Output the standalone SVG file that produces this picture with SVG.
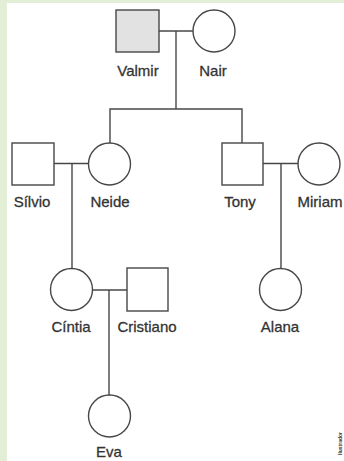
<svg xmlns="http://www.w3.org/2000/svg" width="344" height="461" viewBox="0 0 344 461">
  <style>
    .shape { fill: #ffffff; stroke: #474747; stroke-width: 1.4; }
    .affected { fill: #e2e2e2; }
    .link { fill: none; stroke: #474747; stroke-width: 1.4; }
    .name { font-family: "Liberation Sans", Arial, sans-serif; font-size: 15px; fill: #333333; stroke: #333333; stroke-width: 0.3; text-anchor: middle; }
    .credit { font-family: "Liberation Sans", Arial, sans-serif; font-size: 5px; font-weight: bold; fill: #333333; }
  </style>

  <!-- page background with a light green margin on the left and top -->
  <rect x="0" y="0" width="344" height="461" fill="#e3eed6"/>
  <rect x="7" y="3" width="337" height="458" fill="#ffffff"/>

  <!-- connectors: couples, descent lines, sibship -->
  <g id="connectors">
    <path class="link" d="M159 31 H193"/>
    <path class="link" d="M176 31 V109"/>
    <path class="link" d="M110 143 V109 H242 V143"/>
    <path class="link" d="M54 163.5 H88"/>
    <path class="link" d="M72 163.5 V268"/>
    <path class="link" d="M263 163.5 H298"/>
    <path class="link" d="M281 163.5 V268"/>
    <path class="link" d="M93 290 H127"/>
    <path class="link" d="M109 290 V395"/>
  </g>

  <g id="valmir">
    <rect class="shape affected" x="116" y="10" width="43" height="42"/>
    <text class="name" x="138" y="76">Valmir</text>
  </g>
  <g id="nair">
    <circle class="shape" cx="214" cy="31" r="21"/>
    <text class="name" x="213" y="76">Nair</text>
  </g>

  <g id="silvio">
    <rect class="shape" x="12" y="143" width="42" height="42"/>
    <text class="name" x="32" y="207">Sílvio</text>
  </g>
  <g id="neide">
    <circle class="shape" cx="109.5" cy="164" r="21"/>
    <text class="name" x="110" y="207">Neide</text>
  </g>

  <g id="tony">
    <rect class="shape" x="222" y="143" width="41" height="42"/>
    <text class="name" x="240" y="207">Tony</text>
  </g>
  <g id="miriam">
    <circle class="shape" cx="319" cy="164" r="21"/>
    <text class="name" x="320" y="207">Miriam</text>
  </g>

  <g id="cintia">
    <circle class="shape" cx="71.5" cy="289.5" r="21"/>
    <text class="name" x="71" y="332">Cíntia</text>
  </g>
  <g id="cristiano">
    <rect class="shape" x="127" y="268" width="41" height="43"/>
    <text class="name" x="147" y="332">Cristiano</text>
  </g>

  <g id="alana">
    <circle class="shape" cx="280.5" cy="289.5" r="21"/>
    <text class="name" x="280" y="332">Alana</text>
  </g>

  <g id="eva">
    <circle class="shape" cx="109.5" cy="416" r="21"/>
    <text class="name" x="109" y="457">Eva</text>
  </g>

  <!-- illustrator credit, set vertically -->
  <text class="credit" transform="translate(342 455) rotate(-90)">Ilustrador</text>
</svg>
